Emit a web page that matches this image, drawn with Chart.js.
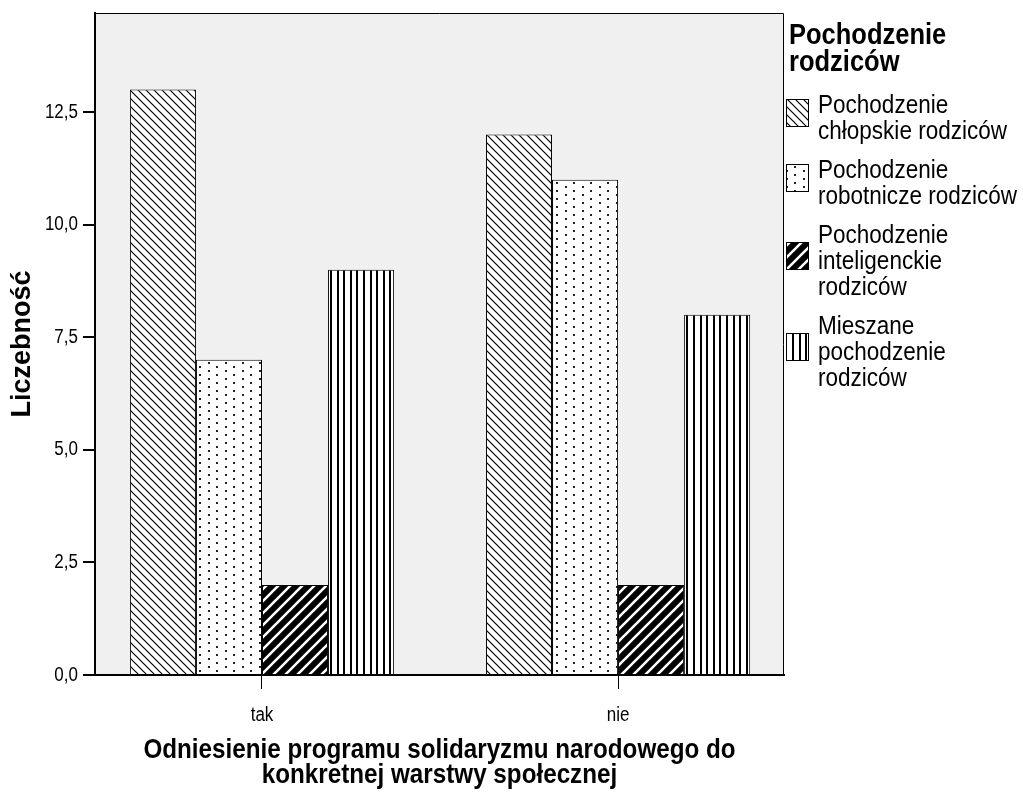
<!DOCTYPE html>
<html>
<head>
<meta charset="utf-8">
<script src="https://cdn.jsdelivr.net/npm/chart.js@4/dist/chart.umd.min.js"></script>
<style>
  html, body { margin: 0; padding: 0; background: #fff; }
  #wrap { width: 1023px; height: 798px; position: relative; }
</style>
</head>
<body>
<div id="wrap"><canvas id="c"></canvas></div>
<script>
// Categories on the x axis
const categories = ['tak', 'nie'];

// Series names (one entry per legend line)
const seriesLabels = [
  ['Pochodzenie', 'chłopskie rodziców'],
  ['Pochodzenie', 'robotnicze rodziców'],
  ['Pochodzenie', 'inteligenckie', 'rodziców'],
  ['Mieszane', 'pochodzenie', 'rodziców']
];

// Counts per category (tak, nie)
const chlopskie     = [13, 12];
const robotnicze    = [7, 11];
const inteligenckie = [2, 2];
const mieszane      = [9, 8];

// Value axis ticks
const yTicks = [0, 2.5, 5, 7.5, 10, 12.5];

const legendTitle = ['Pochodzenie', 'rodziców'];
const xTitle = ['Odniesienie programu solidaryzmu narodowego do', 'konkretnej warstwy społecznej'];
const yTitle = 'Liczebność';

const FONT = "'Liberation Sans', Arial, sans-serif";
Chart.defaults.font.family = FONT;
Chart.defaults.color = '#000';

const ctx0 = document.getElementById('c').getContext('2d');

// Horizontal text is drawn slightly condensed; rotated text is left as is.
const SQUEEZE = 0.85;
(function condenseText(ctx) {
  const orig = ctx.fillText.bind(ctx);
  ctx.fillText = function (text, x, y, maxWidth) {
    const m = ctx.getTransform();
    if (Math.abs(m.b) > 1e-6 || Math.abs(m.c) > 1e-6) return orig(text, x, y, maxWidth);
    ctx.save();
    ctx.translate(x, y);
    ctx.scale(SQUEEZE, 1);
    orig(text, 0, 0);
    ctx.restore();
  };
})(ctx0);

// ---- fill patterns ----
function makeTile(w, h, draw) {
  const c = document.createElement('canvas');
  c.width = w; c.height = h;
  const g = c.getContext('2d');
  draw(g, w, h);
  return ctx0.createPattern(c, 'repeat');
}

// "\" hatch on white
const hatchBack = makeTile(8, 8, (g, w, h) => {
  g.fillStyle = '#fff'; g.fillRect(0, 0, w, h);
  g.strokeStyle = '#000'; g.lineWidth = 1.2;
  g.beginPath();
  g.moveTo(-1, -1); g.lineTo(w + 1, h + 1);
  g.moveTo(w - 1, -1); g.lineTo(w + 1, 1);
  g.moveTo(-1, h - 1); g.lineTo(1, h + 1);
  g.stroke();
});

// staggered dots on white
const dots = makeTile(17, 8, (g, w, h) => {
  g.fillStyle = '#fff'; g.fillRect(0, 0, w, h);
  g.fillStyle = '#222';
  g.fillRect(4, 2, 2, 2);
  g.fillRect(12, 6, 2, 2);
});

// white "/" hatch on black
const hatchFwdInv = makeTile(12, 12, (g, w, h) => {
  g.fillStyle = '#000'; g.fillRect(0, 0, w, h);
  g.strokeStyle = '#fff'; g.lineWidth = 2.6;
  g.beginPath();
  g.moveTo(-1, h + 1); g.lineTo(w + 1, -1);
  g.moveTo(-2, 2); g.lineTo(2, -2);
  g.moveTo(w - 2, h + 2); g.lineTo(w + 2, h - 2);
  g.stroke();
});

// vertical lines on white
const vLines = makeTile(33, 4, (g, w, h) => {
  g.fillStyle = '#fff'; g.fillRect(0, 0, w, h);
  g.fillStyle = '#000';
  for (let i = 0; i < 5; i++) g.fillRect(Math.round(i * 6.6), 0, 2, h);
});

const seriesValues = [chlopskie, robotnicze, inteligenckie, mieszane];
const fills = [hatchBack, dots, hatchFwdInv, vLines];

// ---- plot frame: grey background with thin top/right border ----
const framePlugin = {
  id: 'frame',
  beforeDraw(chart) {
    const { ctx, chartArea: a } = chart;
    ctx.save();
    ctx.fillStyle = '#f0f0f0';
    ctx.fillRect(a.left, a.top, a.right - a.left, a.bottom - a.top);
    ctx.strokeStyle = '#000';
    ctx.lineWidth = 1;
    ctx.beginPath();
    ctx.moveTo(a.left, a.top + 0.5);
    ctx.lineTo(a.right - 0.5, a.top + 0.5);
    ctx.lineTo(a.right - 0.5, a.bottom);
    ctx.stroke();
    ctx.restore();
  }
};

// ---- legend at the right with multi-line entries ----
const sideLegend = {
  id: 'sideLegend',
  afterDraw(chart) {
    const g = chart.ctx;
    const x0 = chart.chartArea.right + 5;
    g.save();
    g.fillStyle = '#000';
    g.textAlign = 'left';
    g.textBaseline = 'middle';
    g.font = 'bold 30px ' + FONT;
    legendTitle.forEach((t, i) => g.fillText(t, x0, 36 + i * 27));
    g.font = '26.5px ' + FONT;
    const lineH = 26;
    let y = 106;
    chart.data.datasets.forEach((ds, i) => {
      const lines = seriesLabels[i];
      const mid = y + (lines.length - 1) * lineH / 2;
      g.fillStyle = ds.backgroundColor;
      g.fillRect(x0 - 3, mid - 20, 23, 28);
      g.strokeStyle = '#000';
      g.lineWidth = 1;
      g.strokeRect(x0 - 2.5, mid - 19.5, 22, 27);
      g.fillStyle = '#000';
      lines.forEach((t, k) => g.fillText(t, x0 + 29, y + k * lineH));
      y += lines.length * lineH + 13;
    });
    g.restore();
  }
};

new Chart(ctx0, {
  type: 'bar',
  data: {
    datasets: seriesValues.map((vals, i) => ({
      label: seriesLabels[i].join(' '),
      data: vals.map((v, j) => ({ x: j, y: v })),
      backgroundColor: fills[i],
      borderColor: '#000',
      borderWidth: 1,
      categoryPercentage: 0.742,
      barPercentage: 1
    }))
  },
  options: {
    responsive: true,
    maintainAspectRatio: false,
    animation: false,
    layout: { padding: { top: 13, right: 239, left: 0, bottom: 0 } },
    plugins: {
      legend: { display: false },
      tooltip: { enabled: false }
    },
    scales: {
      x: {
        type: 'linear',
        min: -0.469,
        max: 1.466,
        offset: false,
        z: 1,
        afterBuildTicks: s => { s.ticks = categories.map((_, i) => ({ value: i })); },
        afterFit: s => { s.height = 123; s.paddingLeft = 0; s.paddingRight = 0; },
        ticks: {
          callback: v => categories[v],
          font: { size: 20 },
          padding: 14,
          maxRotation: 0
        },
        grid: {
          offset: false,
          drawOnChartArea: false,
          drawTicks: true,
          tickLength: 14,
          color: '#000',
          lineWidth: 1
        },
        border: { display: true, color: '#000', width: 2 },
        title: {
          display: true,
          text: xTitle,
          font: { size: 28.5, weight: 'bold', lineHeight: '25px' },
          padding: { top: 0, bottom: 10 }
        }
      },
      y: {
        min: 0,
        max: 14.7,
        afterBuildTicks: s => { s.ticks = yTicks.map(v => ({ value: v })); },
        afterFit: s => { s.width = 95; s.paddingTop = 0; s.paddingBottom = 0; },
        ticks: {
          callback: v => v.toFixed(1).replace('.', ','),
          font: { size: 20 },
          padding: 5
        },
        grid: {
          drawOnChartArea: false,
          drawTicks: true,
          tickLength: 12,
          color: '#000',
          lineWidth: 2
        },
        border: { display: true, color: '#000', width: 2 },
        title: {
          display: true,
          text: yTitle,
          font: { size: 27, weight: 'bold' },
          padding: { top: 6, bottom: 0 }
        }
      }
    }
  },
  plugins: [framePlugin, sideLegend]
});
</script>
</body>
</html>
